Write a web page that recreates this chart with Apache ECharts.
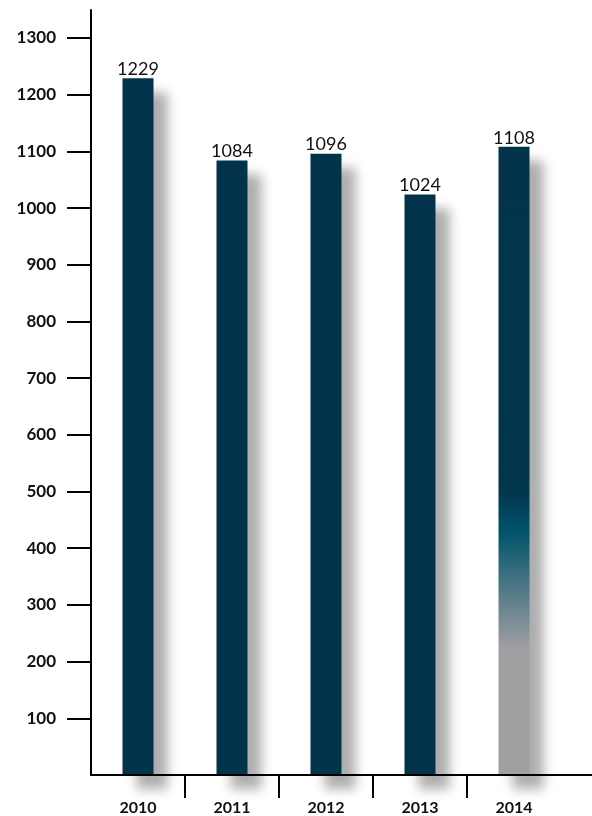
<!DOCTYPE html>
<html>
<head>
<meta charset="utf-8">
<script src="https://cdn.jsdelivr.net/npm/echarts@6/dist/echarts.min.js"></script>
<style>
html,body{margin:0;padding:0;background:#fff;}
#c{width:592px;height:816px;}
</style>
</head>
<body>
<div id="c"></div>
<script>
var categories = ['2010', '2011', '2012', '2013', '2014'];
var values = [1229, 1084, 1096, 1024, 1108];
var yTicks = [100, 200, 300, 400, 500, 600, 700, 800, 900, 1000, 1100, 1200, 1300];
var xBoundaries = [1, 2, 3, 4];

var dark = '#02334a';
var gradient2014 = new echarts.graphic.LinearGradient(0, 0, 0, 1, [
  {offset: 0, color: dark},
  {offset: 0.55, color: '#02364d'},
  {offset: 0.61, color: '#00526a'},
  {offset: 0.8, color: '#a0a0a3'},
  {offset: 1, color: '#a0a0a0'}
]);

var barData = values.map(function (v, i) {
  var item = {value: v};
  if (i === values.length - 1) item.itemStyle = {color: gradient2014};
  return item;
});

var font = 'Lato, "Open Sans", sans-serif';
var chart = echarts.init(document.getElementById('c'));
chart.setOption({
  animation: false,
  backgroundColor: '#fff',
  grid: [
    {left: 91, width: 470, top: 38, bottom: 41},
    {left: 91, right: 0, top: 10, bottom: 41}
  ],
  xAxis: [
    {
      type: 'category', gridIndex: 0, data: categories,
      axisLine: {show: false}, axisTick: {show: false},
      axisLabel: {margin: 25, color: '#111', fontFamily: font, fontWeight: 'bold', fontSize: 16}
    },
    {
      type: 'value', gridIndex: 0, min: 0, max: 5, position: 'bottom',
      axisLine: {show: false}, splitLine: {show: false},
      axisLabel: {show: false},
      axisTick: {show: true, customValues: xBoundaries, length: 23, lineStyle: {color: '#000', width: 2}}
    },
    {
      type: 'value', gridIndex: 1, min: 0, max: 1, position: 'bottom', z: 5,
      axisLine: {show: true, onZero: false, lineStyle: {color: '#000', width: 2}},
      axisTick: {show: false}, axisLabel: {show: false}, splitLine: {show: false}
    }
  ],
  yAxis: [
    {
      type: 'value', gridIndex: 0, min: 0, max: 1300, interval: 100,
      axisLine: {show: false}, splitLine: {show: false},
      axisTick: {show: true, customValues: yTicks, length: 24, lineStyle: {color: '#000', width: 2}},
      axisLabel: {
        customValues: yTicks, margin: 35, color: '#111', fontFamily: font, fontWeight: 'bold', fontSize: 17,
        formatter: function (v) { return String(v); }
      }
    },
    {
      type: 'value', gridIndex: 1, min: 0, max: 1, z: 5,
      axisLine: {show: true, onZero: false, lineStyle: {color: '#000', width: 2}},
      axisTick: {show: false}, axisLabel: {show: false}, splitLine: {show: false}
    }
  ],
  series: [{
    type: 'bar', xAxisIndex: 0, yAxisIndex: 0,
    data: barData, barWidth: 31,
    itemStyle: {
      color: dark,
      shadowColor: 'rgba(0,0,0,0.32)', shadowBlur: 12, shadowOffsetX: 14, shadowOffsetY: 14
    },
    label: {
      show: true, position: 'top', distance: 0,
      color: '#111', fontFamily: font, fontSize: 18
    }
  }]
});
</script>
</body>
</html>
